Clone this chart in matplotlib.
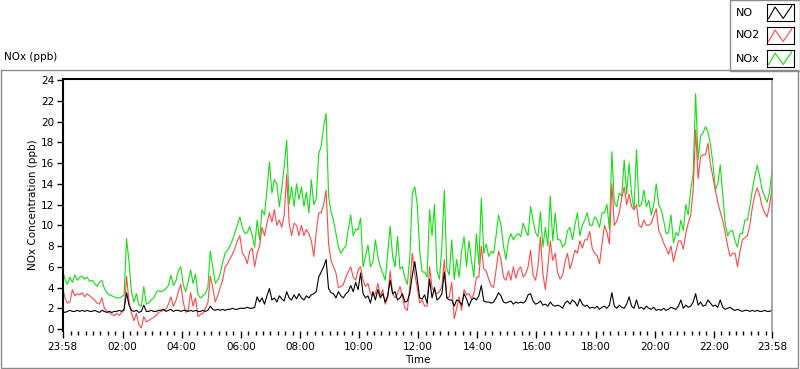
"""
NOx / NO / NO2 concentration over one day, LabVIEW style chart
"""
import numpy as np
import matplotlib.pyplot as plt
from matplotlib.patches import Rectangle
from matplotlib.lines import Line2D

# readings every 5 minutes, starting 23:58, one row per hour
nox = [
    5.7, 4.8, 4.3, 5.0, 4.5, 5.2, 4.7, 5.0, 5.1, 4.8, 5.0, 4.6,
    4.7, 4.4, 4.1, 4.5, 4.7, 3.9, 3.5, 3.3, 3.2, 3.1, 3.0, 3.0,
    3.1, 3.3, 8.7, 6.5, 3.5, 2.6, 3.4, 2.3, 2.2, 4.1, 2.4, 2.5,
    2.8, 3.0, 3.5, 3.7, 3.6, 3.7, 3.9, 4.2, 5.2, 4.2, 4.6, 5.6,
    6.0, 4.3, 3.6, 4.5, 5.7, 4.4, 5.3, 3.3, 3.0, 3.2, 3.4, 4.0,
    7.5, 6.0, 4.4, 4.7, 5.3, 6.4, 7.3, 7.6, 8.0, 8.6, 9.3, 10.0,
    10.8, 9.8, 9.2, 9.3, 9.9, 9.0, 7.9, 10.5, 8.6, 11.5, 11.0, 13.4,
    16.1, 13.1, 14.4, 14.0, 11.8, 13.5, 15.7, 18.2, 12.0, 13.7, 11.8, 14.0,
    12.5, 13.7, 11.8, 13.2, 11.2, 14.4, 12.0, 12.5, 16.9, 17.6, 19.5, 20.8,
    12.8, 11.3, 10.5, 9.2, 7.9, 7.3, 7.7, 8.0, 9.6, 11.0, 9.0, 9.6,
    9.6, 10.7, 6.0, 7.0, 8.1, 6.0, 6.5, 8.6, 7.0, 6.0, 5.4, 4.7,
    7.3, 9.9, 7.0, 6.0, 8.9, 5.8, 6.0, 4.9, 4.3, 7.0, 13.1, 13.7,
    12.0, 7.5, 5.5, 5.5, 5.0, 11.5, 9.0, 12.0, 5.6, 4.8, 8.0, 13.4,
    5.8, 5.2, 8.6, 4.8, 6.7, 5.0, 7.5, 8.9, 6.0, 8.5, 6.6, 5.0,
    9.2, 6.2, 12.6, 7.3, 8.2, 7.0, 7.5, 7.3, 9.0, 11.0, 10.0, 8.0,
    6.7, 8.5, 9.2, 8.6, 9.0, 9.2, 8.9, 10.2, 9.5, 9.0, 11.8, 10.5,
    9.3, 8.9, 11.3, 7.9, 9.8, 8.0, 12.8, 8.5, 11.2, 8.6, 8.6, 7.9,
    8.2, 9.5, 9.8, 8.6, 10.0, 11.2, 9.0, 10.0, 10.5, 11.2, 10.0, 10.0,
    10.8, 10.5, 9.8, 11.2, 11.2, 12.0, 9.6, 17.1, 12.2, 11.8, 13.1, 12.8,
    16.3, 13.0, 16.0, 13.0, 11.5, 17.3, 11.8, 12.0, 13.4, 11.8, 12.4, 11.0,
    12.0, 14.0, 12.0, 11.5, 10.5, 9.2, 9.3, 11.0, 8.3, 9.3, 9.0, 10.5,
    9.5, 12.0, 11.0, 13.4, 15.0, 22.7, 16.3, 18.6, 18.9, 19.5, 19.0, 17.8,
    16.0, 13.4, 14.0, 15.8, 13.0, 10.2, 9.0, 9.4, 9.5, 8.5, 7.9, 9.2,
    9.2, 10.5, 10.5, 11.7, 13.4, 14.7, 15.8, 14.7, 13.4, 12.8, 12.2, 13.2,
    15.3,
]

no2 = [
    4.1, 3.0, 2.5, 2.6, 3.8, 3.2, 3.4, 3.3, 3.5, 3.1, 3.4, 3.2,
    3.0, 2.8, 2.5, 2.4, 3.0, 2.0, 1.7, 1.6, 1.4, 1.3, 1.5, 1.3,
    1.6, 1.8, 5.1, 2.6, 1.5, 0.8, 1.5, 0.4, 0.1, 1.2, 0.7, 0.8,
    1.0, 1.1, 1.3, 1.6, 1.7, 1.8, 1.9, 2.4, 3.1, 2.2, 2.7, 3.6,
    4.3, 2.6, 1.6, 1.8, 3.5, 2.2, 3.0, 1.2, 1.4, 1.5, 2.0, 2.5,
    5.1, 4.0, 2.6, 3.2, 4.0, 4.7, 6.0, 6.3, 6.8, 7.2, 7.8, 8.5,
    9.0, 7.3, 7.0, 6.3, 7.5, 7.8, 6.0, 7.3, 8.0, 9.8, 9.0, 10.2,
    11.2, 10.3, 11.5, 10.0, 10.5, 9.8, 11.0, 14.9, 10.2, 9.0, 10.2, 10.0,
    9.0, 10.0, 9.0, 9.6, 9.2, 8.5, 7.0, 9.3, 11.2, 11.2, 12.0, 13.4,
    8.2, 6.6, 6.0, 5.4, 4.0, 4.1, 4.3, 5.0, 5.5, 6.0, 5.0, 4.7,
    5.7, 6.0, 4.7, 4.1, 4.4, 3.4, 3.2, 3.4, 4.4, 3.2, 3.8, 2.4,
    3.0, 5.6, 3.4, 3.0, 3.4, 4.1, 3.1, 2.0, 1.8, 4.2, 7.3, 5.3,
    4.0, 2.5, 2.8, 2.2, 2.2, 6.0, 4.0, 3.6, 3.4, 3.6, 4.1, 6.7,
    3.0, 3.1, 4.5, 1.0, 2.0, 3.1, 1.8, 3.8, 3.3, 3.4, 2.9, 3.4,
    5.0, 5.0, 8.0, 5.8, 5.6, 4.8, 4.2, 4.0, 5.7, 7.5, 6.7, 5.0,
    4.7, 5.6, 4.7, 6.0, 4.9, 5.7, 6.0, 5.0, 5.3, 6.0, 7.6, 5.2,
    4.7, 6.0, 8.9, 5.3, 3.8, 6.0, 8.5, 6.6, 7.3, 5.4, 4.8, 5.2,
    6.5, 7.3, 5.8, 6.6, 7.6, 7.3, 8.5, 7.8, 8.6, 8.6, 9.4, 7.8,
    7.3, 7.1, 6.3, 8.2, 10.0, 9.3, 8.2, 14.0, 10.0, 10.4, 11.2, 12.6,
    13.7, 12.0, 13.0, 11.8, 11.5, 12.0, 10.0, 9.8, 10.5, 10.0, 10.0, 10.2,
    10.9, 11.6, 9.5, 9.0, 8.3, 7.8, 7.2, 8.0, 6.5, 7.5, 8.5, 8.5,
    7.7, 9.2, 10.2, 11.0, 13.4, 19.2, 14.5, 16.6, 16.8, 16.8, 17.9, 15.9,
    14.7, 13.4, 12.2, 11.3, 10.5, 9.3, 8.0, 7.0, 7.3, 7.3, 6.0, 7.5,
    8.6, 8.8, 9.0, 10.0, 11.7, 12.9, 13.6, 12.9, 11.8, 11.2, 10.8, 11.9,
    13.6,
]

no = [
    1.7, 1.6, 1.7, 1.8, 1.7, 1.7, 1.8, 1.7, 1.8, 1.7, 1.8, 1.7,
    1.7, 1.8, 1.7, 1.6, 1.8, 1.7, 1.6, 1.7, 1.6, 1.7, 1.7, 1.8,
    1.7, 1.9, 3.5, 2.3, 1.8, 1.7, 1.8, 1.6, 1.7, 2.3, 1.7, 1.7,
    1.8, 1.7, 1.7, 1.8, 1.8, 1.9, 1.7, 1.8, 1.9, 1.7, 1.8, 1.8,
    1.7, 1.8, 1.8, 1.7, 1.8, 1.7, 1.8, 1.7, 1.7, 1.8, 1.7, 1.8,
    2.2, 1.9, 1.8, 1.9, 1.8, 1.9, 1.8, 1.9, 1.9, 2.0, 1.9, 1.9,
    2.0, 2.0, 2.0, 2.1, 2.0, 2.0, 2.1, 3.1, 2.6, 3.0, 2.4, 3.2,
    3.9, 2.8, 3.0, 2.6, 3.2, 2.9, 2.7, 3.6, 3.0, 2.8, 3.3, 2.9,
    3.4, 3.0, 2.8, 3.2, 3.0, 3.3, 3.4, 3.6, 5.0, 5.5, 6.0, 6.7,
    3.9, 3.5, 3.4, 3.0, 3.6, 3.2, 3.0, 3.4, 3.6, 4.2, 3.6, 4.5,
    3.8, 5.4, 3.4, 3.0, 3.2, 2.5, 3.6, 2.8, 3.8, 3.0, 3.4, 2.6,
    3.2, 4.7, 3.4, 3.6, 2.8, 3.0, 3.4, 2.6, 2.7, 3.5, 5.2, 6.5,
    4.8, 3.0, 2.9, 3.3, 2.5, 4.8, 3.0, 4.0, 2.8, 3.0, 3.4, 5.5,
    3.0, 2.8, 2.8, 2.2, 2.8, 2.7, 2.3, 3.4, 2.9, 2.2, 2.8, 3.0,
    2.8, 3.2, 4.2, 2.7, 2.6, 2.6, 2.5, 2.6, 3.0, 3.5, 3.2, 2.6,
    2.5, 2.6, 2.7, 2.4, 2.6, 2.5, 2.6, 2.5, 2.7, 3.3, 3.4, 2.7,
    2.4, 2.5, 2.7, 2.3, 2.4, 2.2, 2.6, 2.3, 2.2, 2.3, 2.2, 2.0,
    2.5, 2.7, 2.4, 2.8, 2.6, 2.2, 2.9, 2.4, 2.2, 2.3, 2.0, 2.1,
    2.0, 2.2, 1.9, 2.1, 2.2, 2.0, 2.3, 3.5, 2.2, 2.0, 2.3, 2.1,
    2.0, 2.4, 3.1, 2.2, 2.0, 2.8, 2.0, 2.1, 1.9, 2.2, 2.0, 1.9,
    2.1, 1.8, 1.9, 1.8, 2.0, 1.8, 1.9, 2.1, 2.0, 1.9, 2.2, 2.8,
    2.0, 2.3, 2.1, 2.2, 2.6, 3.4, 2.3, 2.6, 2.2, 2.3, 2.8, 2.5,
    2.2, 2.3, 2.1, 2.8, 2.1, 1.9, 2.0, 2.1, 1.9, 1.8, 1.9, 1.8,
    1.7, 1.8, 1.8, 1.7, 1.8, 1.7, 1.8, 1.7, 1.7, 1.8, 1.7, 1.7,
    1.8,
]

tick_labels = ["23:58", "02:00", "04:00", "06:00", "08:00", "10:00", "12:00",
               "14:00", "16:00", "18:00", "20:00", "22:00", "23:58"]

GREEN = "#10e010"
RED = "#ff4848"
FS = 7.5


def main() -> None:
    plt.rcParams["font.family"] = "DejaVu Sans"
    fig = plt.figure(figsize=(8, 3.69), dpi=100)
    W, H = 800, 369

    def fx(px):
        return px / W

    def fy(py):
        return 1 - py / H

    # outer frame of the graph
    fig.patches.append(Rectangle((fx(1), fy(368)), fx(797), (367 - 69) / H,
                                 transform=fig.transFigure, fill=False,
                                 edgecolor="#8a8a8a", lw=1))
    fig.text(fx(4), fy(57), "NOx (ppb)", fontsize=FS, va="center", ha="left")

    ax = fig.add_axes([fx(62.5), fy(331), (772 - 62.5) / W, 252 / H])
    minutes = np.arange(len(nox)) * 5

    ax.plot(minutes, nox, color=GREEN, lw=0.8)
    ax.plot(minutes, no2, color=RED, lw=0.8)
    ax.plot(minutes, no, color="black", lw=0.8)

    ax.set_xlim(0, 1440)
    ax.set_ylim(-0.19, 24.1)

    major = [0] + [122 + 120 * k for k in range(11)] + [1440]
    minor = [m for m in range(17, 1440, 15) if (m - 2) % 120 != 0]
    ax.set_xticks(major)
    ax.set_xticklabels(tick_labels)
    ax.set_xticks(minor, minor=True)
    ax.set_yticks(range(0, 25, 2))

    ax.tick_params(axis="x", which="major", length=5, width=1, pad=3,
                   labelsize=FS, direction="out")
    ax.tick_params(axis="x", which="minor", length=3, width=1, direction="out")
    ax.tick_params(axis="y", length=4, width=1, pad=2, labelsize=FS,
                   direction="out")

    ax.spines["bottom"].set_visible(False)
    ax.spines["left"].set_linewidth(1.5)
    ax.spines["top"].set_linewidth(1.5)
    ax.spines["right"].set_color("#9a9a9a")
    ax.spines["right"].set_linewidth(1.2)

    fig.text(fx(33), fy(205), "NOx Concentration (ppb)", rotation=90,
             fontsize=FS, ha="center", va="center")
    fig.text(fx(418), fy(360), "Time", fontsize=FS, ha="center", va="center")

    # legend box drawn by hand, as in the original front panel
    fig.patches.append(Rectangle((fx(730), fy(71)), fx(70), 71 / H,
                                 transform=fig.transFigure, fill=False,
                                 edgecolor="#8a8a8a", lw=1))
    for name, color, y0 in (("NO", "black", 4), ("NO2", RED, 27),
                            ("NOx", GREEN, 50)):
        fig.text(fx(736), fy(y0 + 8.5), name, fontsize=8, va="center",
                 ha="left")
        sw = fig.add_axes([fx(767), fy(y0 + 17), 27 / W, 17 / H])
        sw.add_line(Line2D([0.06, 0.3, 0.6, 0.92], [0.15, 0.82, 0.15, 0.9],
                           color=color, lw=0.8))
        sw.set_xlim(0, 1)
        sw.set_ylim(0, 1)
        sw.set_xticks([])
        sw.set_yticks([])
        for s in sw.spines.values():
            s.set_linewidth(0.8)

    fig.savefig("out.png", dpi=100)


if __name__ == "__main__":
    main()
